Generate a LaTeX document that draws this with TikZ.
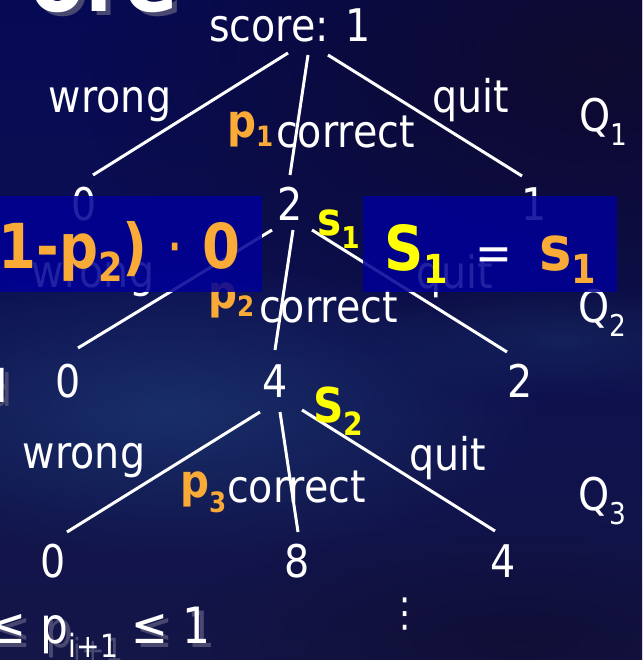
\documentclass[tikz,border=0pt]{standalone}
\usepackage{fontspec}
\setmainfont[FakeStretch=0.88]{DejaVu Sans}
\usetikzlibrary{fadings}
\tikzfading[name=softblob, inner color=transparent!0, outer color=transparent!100]
\definecolor{bgtop}{RGB}{6,10,84}
\definecolor{bgmid}{RGB}{20,42,102}
\definecolor{bgbot}{RGB}{20,22,72}
\definecolor{bgdark}{RGB}{14,10,44}
\definecolor{bgglow}{RGB}{32,66,124}
\definecolor{orng}{RGB}{250,170,55}
\definecolor{yel}{RGB}{255,255,0}
\definecolor{boxblue}{RGB}{0,0,150}
\definecolor{shad}{RGB}{72,72,112}
\newcommand\lowsub[3]{\raisebox{-#1pt}{\fontsize{#2}{#2}\selectfont #3}}
\tikzset{
  txt/.style={text=white, inner sep=0pt, font=\fontsize{45}{50}\selectfont},
  hot/.style={inner sep=0pt, font=\fontsize{46}{50}\selectfont\bfseries},
  big/.style={inner sep=0pt, font=\fontsize{62}{66}\selectfont\bfseries},
  branch/.style={draw=white, line width=3pt},
  overlay box/.style={fill=boxblue, fill opacity=0.87},
  shadowed/.style={text=shad}
}
\begin{document}
\begin{tikzpicture}[x=1pt,y=-1pt]
\useasboundingbox (0,0) rectangle (642,660);
\clip (0,0) rectangle (642,660);
% background
\fill[top color=bgtop, middle color=bgmid, bottom color=bgbot] (0,0) rectangle (642,660);
\fill[bgdark, path fading=softblob, fill opacity=0.95] (600,60) ellipse [x radius=520, y radius=330];
\fill[bgglow, path fading=softblob, fill opacity=0.6] (170,410) ellipse [x radius=380, y radius=150];
\fill[bgglow, path fading=softblob, fill opacity=0.35] (560,340) ellipse [x radius=200, y radius=60];
\fill[bgdark, path fading=softblob, fill opacity=0.6] (520,640) ellipse [x radius=360, y radius=120];

% cropped title and side texts with shadows
\node[inner sep=0pt, anchor=base east, text=shad, font=\fontsize{90}{90}\selectfont\bfseries] (titleS) at (183,16) {ore};
\node[inner sep=0pt, anchor=base east, text=white, font=\fontsize{90}{90}\selectfont\bfseries] (title) at (178,12) {ore};
\node[txt, shadowed, anchor=base east] (dS) at (13,406) {d};
\node[txt, anchor=base east] (d) at (8,402) {d};
\node[inner sep=0pt, text=shad, anchor=base east, font=\fontsize{50}{54}\selectfont] (rangeS) at (216,647) {≤ p\lowsub{14}{32}{i+1} ≤ 1};
\node[inner sep=0pt, text=white, anchor=base east, font=\fontsize{50}{54}\selectfont] (range) at (211,643) {≤ p\lowsub{14}{32}{i+1} ≤ 1};

% tree nodes
\node[txt, anchor=base] (root) at (290,42) {score: 1};
\node[txt, anchor=base] (n10) at (84,220) {0};
\node[txt, anchor=base] (n11) at (290,220) {2};
\node[txt, anchor=base] (n12) at (534,220) {1};
\node[txt, anchor=base] (n20) at (68,397) {0};
\node[txt, anchor=base] (n21) at (275,397) {4};
\node[txt, anchor=base] (n22) at (520,397) {2};
\node[txt, anchor=base] (n30) at (53,577) {0};
\node[txt, anchor=base] (n31) at (297,577) {8};
\node[txt, anchor=base] (n32) at (503,577) {4};
\node[txt, font=\fontsize{40}{40}\selectfont] (more) at (405,614) {⋮};

% connector end points
\coordinate (r-w) at (288,53);  \coordinate (a-w) at (93,175);
\coordinate (r-c) at (308,55);  \coordinate (a-c) at (290,175);
\coordinate (r-q) at (328,55);  \coordinate (a-q) at (522,176);
\coordinate (b-w0) at (272,230); \coordinate (b-w) at (78,348);
\coordinate (b-c0) at (293,230); \coordinate (b-c) at (275,350);
\coordinate (b-q0) at (312,230); \coordinate (b-q) at (507,352);
\coordinate (c-w0) at (260,412); \coordinate (c-w) at (67,532);
\coordinate (c-c0) at (280,412); \coordinate (c-c) at (298,532);
\coordinate (c-q0) at (302,410); \coordinate (c-q) at (495,531);

\draw[branch] (r-w) -- (a-w);
\draw[branch] (r-c) -- (a-c);
\draw[branch] (r-q) -- (a-q);
\draw[branch] (b-w0) -- (b-w);
\draw[branch] (b-c0) -- (b-c);
\draw[branch] (b-q0) -- (b-q);
\draw[branch] (c-w0) -- (c-w);
\draw[branch] (c-c0) -- (c-c);
\draw[branch] (c-q0) -- (c-q);

% edge labels
\node[txt, anchor=base] (w0) at (110,113) {wrong};
\node[txt, anchor=base] (q0) at (471,113) {quit};
\node[hot, text=orng, anchor=base west] (p1) at (227,138) {p\lowsub{9}{28}{1}};
\node[txt, anchor=base west] (c0) at (276,148) {correct};
\node[txt, anchor=base west] (Q1) at (579,132) {Q\lowsub{14}{30}{1}};

\node[txt, anchor=base] (w1) at (93,287) {wrong};
\node[txt, anchor=base] (q1) at (455,288) {quit};
\node[hot, text=orng, anchor=base west] (p2) at (208,308) {p\lowsub{8}{28}{2}};
\node[txt, anchor=base west] (c1) at (259,322) {correct};
\node[txt, anchor=base west] (Q2) at (578,322) {Q\lowsub{14}{30}{2}};
\node[hot, text=yel, anchor=base west] (s1) at (317,235) {s\lowsub{13}{30}{1}};

\node[txt, anchor=base] (w2) at (84,468) {wrong};
\node[txt, anchor=base] (q2) at (448,470) {quit};
\node[hot, text=orng, anchor=base west] (p3) at (180,497) {p\lowsub{15}{28}{3}};
\node[txt, anchor=base west] (c2) at (227,502) {correct};
\node[txt, anchor=base west] (Q3) at (578,510) {Q\lowsub{14}{30}{3}};
\node[hot, text=yel, anchor=base west, font=\fontsize{48}{50}\selectfont\bfseries] (S2) at (313,422) {S\lowsub{13}{32}{2}};

% overlay boxes
\path[overlay box] (0,196) rectangle (262,292);
\path[overlay box] (363,196) rectangle (617,292);
\node[big, text=orng, anchor=base east] (expr) at (241,268) {(1-p\lowsub{13}{40}{2}) {\mdseries·} 0};
\node[big, text=yel, anchor=base west] (S1) at (384,270) {S\lowsub{13}{40}{1}};
\node[inner sep=0pt, text=white, anchor=base, font=\fontsize{50}{50}\selectfont] (eq) at (494,270) {=};
\node[big, text=orng, anchor=base west] (s1b) at (539,270) {s\lowsub{13}{40}{1}};
\end{tikzpicture}
\end{document}
